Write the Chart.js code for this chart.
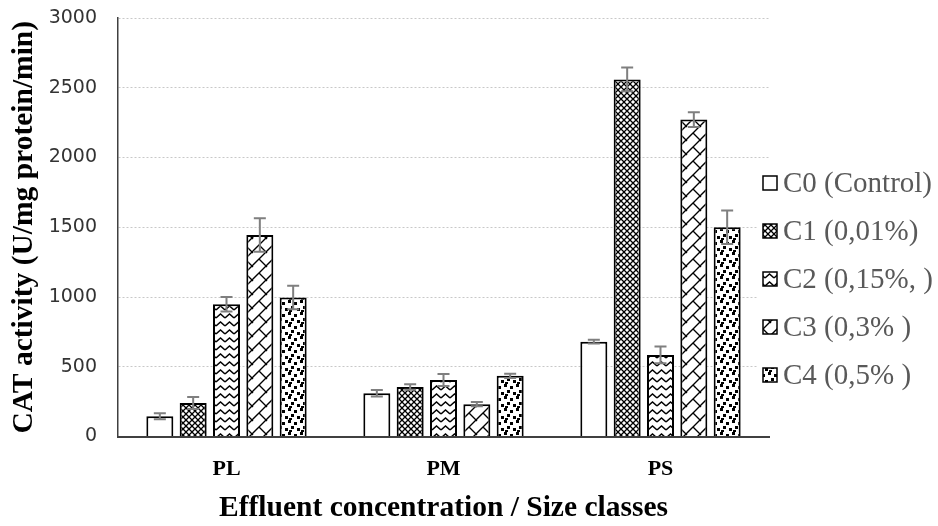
<!DOCTYPE html>
<html>
<head>
<meta charset="utf-8">
<script src="https://cdn.jsdelivr.net/npm/chart.js@4/dist/chart.umd.min.js"></script>
<style>
html, body { margin: 0; padding: 0; background: #fff; }
#wrap { width: 938px; height: 526px; }
</style>
</head>
<body>
<div id="wrap"><canvas id="cat" width="938" height="526"></canvas></div>
<script>
// data
const sizeClasses = ['PL', 'PM', 'PS'];
const seriesNames = ['C0 (Control)', 'C1 (0,01%)', 'C2 (0,15%, )', 'C3 (0,3% )', 'C4 (0,5% )'];
const c0 = [145, 310, 680];
const c1 = [240, 355, 2560];
const c2 = [948, 405, 585];
const c3 = [1445, 232, 2272];
const c4 = [996, 435, 1500];
const c0Err = [22, 24, 14];
const c1Err = [43, 20, 85];
const c2Err = [52, 43, 60];
const c3Err = [120, 15, 53];
const c4Err = [84, 15, 120];
const yTicks = [0, 500, 1000, 1500, 2000, 2500, 3000];

const canvas = document.getElementById('cat');
const ctx = canvas.getContext('2d');

// small tiles for the hatch fills
function makePattern(w, h, draw) {
    const tile = document.createElement('canvas');
    tile.width = w;
    tile.height = h;
    const g = tile.getContext('2d');
    g.fillStyle = '#fff';
    g.fillRect(0, 0, w, h);
    g.strokeStyle = '#000';
    g.fillStyle = '#000';
    draw(g, w, h);
    return ctx.createPattern(tile, 'repeat');
}

const fills = [
    '#ffffff',
    makePattern(6, 6, (g, w, h) => {
        g.lineWidth = 1.3;
        g.beginPath();
        g.moveTo(0, 0); g.lineTo(w, h);
        g.moveTo(w, 0); g.lineTo(0, h);
        g.stroke();
    }),
    makePattern(9, 8, (g, w, h) => {
        g.lineWidth = 1.5;
        g.beginPath();
        g.moveTo(0, 6); g.lineTo(4.5, 2); g.lineTo(9, 6);
        g.stroke();
    }),
    makePattern(14, 14, (g, w, h) => {
        g.lineWidth = 1.4;
        g.beginPath();
        g.moveTo(-2, h + 2); g.lineTo(w + 2, -2);
        g.moveTo(w / 2, h / 2); g.lineTo(w + 1, h + 1);
        g.moveTo(-1, -1); g.lineTo(1, 1);
        g.stroke();
    }),
    makePattern(12, 12, (g) => {
        [[0, 0], [6, 2], [3, 6], [9, 8], [1, 10]].forEach(([x, y]) => g.fillRect(x, y, 3, 3));
    })
];

const values = [c0, c1, c2, c3, c4];
const errors = [c0Err, c1Err, c2Err, c3Err, c4Err];

// error bars, gray with caps on both ends
const errorBars = {
    id: 'errorBars',
    afterDatasetsDraw(chart) {
        const { ctx, scales: { y } } = chart;
        ctx.save();
        ctx.strokeStyle = '#7f7f7f';
        ctx.lineWidth = 2;
        chart.data.datasets.forEach((ds, i) => {
            chart.getDatasetMeta(i).data.forEach((bar, j) => {
                const v = ds.data[j];
                const e = ds.errors[j];
                const top = y.getPixelForValue(v + e);
                const bot = y.getPixelForValue(v - e);
                ctx.beginPath();
                ctx.moveTo(bar.x, top); ctx.lineTo(bar.x, bot);
                ctx.moveTo(bar.x - 6, top); ctx.lineTo(bar.x + 6, top);
                ctx.moveTo(bar.x - 6, bot); ctx.lineTo(bar.x + 6, bot);
                ctx.stroke();
            });
        });
        ctx.restore();
    }
};

// legend on the right, over the end of the grid lines
const sideLegend = {
    id: 'sideLegend',
    afterDraw(chart) {
        const { ctx } = chart;
        ctx.save();
        ctx.fillStyle = '#fff';
        ctx.fillRect(758, 160, 180, 240);
        ctx.font = '29px "Liberation Serif"';
        ctx.textBaseline = 'middle';
        chart.data.datasets.forEach((ds, i) => {
            const cy = 183 + i * 48;
            ctx.fillStyle = ds.backgroundColor;
            ctx.fillRect(763, cy - 7, 14, 14);
            ctx.strokeStyle = '#000';
            ctx.lineWidth = 1.5;
            ctx.strokeRect(763, cy - 7, 14, 14);
            ctx.fillStyle = '#595959';
            ctx.fillText(ds.label, 783, cy + 1);
        });
        ctx.restore();
    }
};

new Chart(canvas, {
    type: 'bar',
    data: {
        labels: sizeClasses,
        datasets: seriesNames.map((name, i) => ({
            label: name,
            data: values[i],
            errors: errors[i],
            backgroundColor: fills[i],
            borderColor: '#000',
            borderWidth: 2,
            barPercentage: 0.81,
            categoryPercentage: 0.768
        }))
    },
    options: {
        responsive: false,
        devicePixelRatio: 1,
        animation: false,
        layout: { padding: { top: 18, right: 169, left: 0, bottom: 0 } },
        plugins: {
            legend: { display: false },
            tooltip: { enabled: false }
        },
        scales: {
            x: {
                grid: { display: false },
                border: { display: true, color: '#404040', width: 2 },
                ticks: {
                    color: '#000',
                    padding: 12,
                    font: { family: 'Liberation Serif', size: 22, weight: 'bold' }
                },
                title: {
                    display: true,
                    text: 'Effluent concentration / Size classes',
                    color: '#000',
                    padding: { top: 0, bottom: 0 },
                    font: { family: 'Liberation Serif', size: 29.5, weight: 'bold' }
                },
                afterFit: s => { s.height = 89.5; }
            },
            y: {
                min: 0,
                max: 3000,
                afterBuildTicks: s => { s.ticks = yTicks.map(v => ({ value: v })); },
                grid: { color: '#c8c8c8', lineWidth: 1, drawTicks: true, tickLength: 21, tickColor: 'rgba(0,0,0,0)' },
                border: { display: true, color: '#404040', width: 1.5, dash: [2, 2] },
                ticks: {
                    color: '#333',
                    padding: 0,
                    callback: v => String(v),
                    font: { family: 'DejaVu Sans', size: 19 }
                },
                title: {
                    display: true,
                    text: 'CAT activity (U/mg protein/min)',
                    color: '#000',
                    padding: { top: 7, bottom: 0 },
                    font: { family: 'Liberation Serif', size: 29.5, weight: 'bold' }
                },
                afterFit: s => { s.width = 118; }
            }
        }
    },
    plugins: [errorBars, sideLegend]
});
</script>
</body>
</html>
